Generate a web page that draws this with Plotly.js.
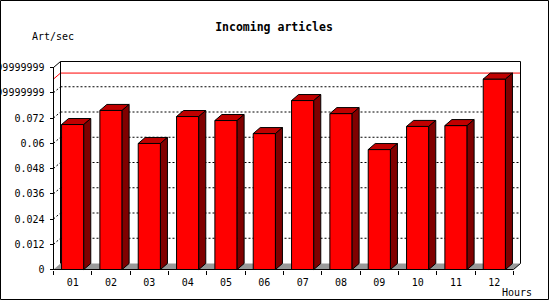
<!DOCTYPE html>
<html><head><meta charset="utf-8">
<script src="https://cdn.plot.ly/plotly-3.0.1.min.js"></script>
<style>html,body{margin:0;padding:0;background:#fff}#chart{width:550px;height:300px}</style>
</head><body><div id="chart"></div>
<script>
// ---- data ----
const hours = ['01','02','03','04','05','06','07','08','09','10','11','12'];
const artPerSec = [0.0689,0.0756,0.0599,0.0727,0.0708,0.0646,0.0803,0.0741,0.0570,0.0680,0.0684,0.0905];
const yTickVals = [0,0.012,0.024,0.036,0.048,0.06,0.072,0.084,0.096];
const yTickText = ['0','0.012','0.024','0.036','0.048','0.06','0.072','0.08399999999999999','0.09599999999999999'];
const chartTitle = 'Incoming articles';
const yUnit = 'Art/sec';
const xUnit = 'Hours';

// ---- geometry (pixels) ----
const W = 550, H = 300;
const M = {l:50, r:26, t:58, b:27};
const PW = W - M.l - M.r, PH = H - M.t - M.b;
const FL = 53.5, FR = 513.5, FB = 269.5, FT = 67.5; // front axis frame
const DDX = 7, DDY = 6; // 3D depth
const N = hours.length;
const YMAX = yTickVals[yTickVals.length - 1];
const catPx = (FR - FL) / N;
const yScale = (FB - FT) / YMAX;
const DX = DDX / catPx, DY = DDY / yScale;
const xr0 = -0.5 - (FL - M.l) / catPx, xr1 = xr0 + PW / catPx;
const yr0 = -((H - M.b) - FB) / yScale, yr1 = yr0 + PH / yScale;
const BW = 0.58;
const xs = hours.map((_, i) => i);
const XL = -0.5, XR = N - 0.5;

// 3D faces built from the data
const topX = [], topY = [], sideX = [], sideY = [];
xs.forEach((x, i) => {
  const v = artPerSec[i], a = x - BW/2, b = x + BW/2;
  topX.push(a, b, b+DX, a+DX, a, null);
  topY.push(v, v, v+DY, v+DY, v, null);
  sideX.push(b, b+DX, b+DX, b, b, null);
  sideY.push(0, DY, v+DY, v, 0, null);
});

const traces = [
  {type:'bar', x:xs, y:artPerSec, width:BW, marker:{color:'#ff0000', line:{color:'#000', width:1}}, hoverinfo:'skip'},
  {type:'scatter', mode:'lines', x:topX, y:topY, fill:'toself', fillcolor:'#c00000', line:{color:'#000', width:1}, hoverinfo:'skip', connectgaps:false},
  {type:'scatter', mode:'lines', x:sideX, y:sideY, fill:'toself', fillcolor:'#800000', line:{color:'#000', width:1}, hoverinfo:'skip', connectgaps:false}
];

const shapes = [];
// floor
shapes.push({type:'path', xref:'x', yref:'y', layer:'below',
  path:`M ${XL},0 L ${XR},0 L ${XR+DX},${DY} L ${XL+DX},${DY} Z`, fillcolor:'#999999', line:{width:0}});
// back wall gridlines + left wall connectors
yTickVals.slice(1, -1).forEach(v => {
  shapes.push({type:'line', xref:'x', yref:'y', layer:'below', x0:XL+DX, x1:XR+DX, y0:v+DY, y1:v+DY, line:{color:'#000', width:1, dash:'2px,2px'}});
  shapes.push({type:'line', xref:'x', yref:'y', layer:'below', x0:XL, x1:XL+DX, y0:v, y1:v+DY, line:{color:'#000', width:1, dash:'2px,2px'}});
});
// max line (red)
const vmax = Math.max(...artPerSec);
shapes.push({type:'path', xref:'x', yref:'y', layer:'below',
  path:`M ${XL},${vmax} L ${XL+DX},${vmax+DY} L ${XR+DX},${vmax+DY}`, line:{color:'#ff0000', width:1}});
// back wall frame
shapes.push({type:'path', xref:'x', yref:'y', layer:'below',
  path:`M ${XL+DX},${DY} L ${XL+DX},${YMAX+DY} L ${XR+DX},${YMAX+DY} L ${XR+DX},${DY}`, line:{color:'#000', width:1}});
shapes.push({type:'line', xref:'x', yref:'y', layer:'below', x0:XL, x1:XL+DX, y0:YMAX, y1:YMAX+DY, line:{color:'#000', width:1}});
// front axes
shapes.push({type:'path', xref:'x', yref:'y', layer:'above',
  path:`M ${XL},${YMAX} L ${XL},0 L ${XR},0 L ${XR+DX},${DY}`, line:{color:'#000', width:1}});
// image border
shapes.push({type:'rect', xref:'paper', yref:'paper',
  x0:(0.5 - M.l)/PW, x1:(548.5 - M.l)/PW, y0:-(299.5 - (H - M.b))/PH, y1:1 + (M.t - 0.5)/PH,
  line:{color:'#000', width:1}, fillcolor:'rgba(0,0,0,0)'});

const font = {family:'DejaVu Sans Mono', size:10, color:'#000'};
const bounds = xs.map(x => x - 0.5).concat([XR]);

const layout = {
  width:W, height:H, margin:M, paper_bgcolor:'#fff', plot_bgcolor:'rgba(0,0,0,0)',
  showlegend:false, font:font,
  title:{text:chartTitle, font:{family:'DejaVu Sans Mono', size:11.5, weight:700, color:'#000'},
         x:274/W, xref:'container', xanchor:'center', y:1 - 27/H, yanchor:'middle'},
  xaxis:{range:[xr0, xr1], tickmode:'array', tickvals:xs, ticktext:hours, ticks:'', showgrid:false,
         zeroline:false, showline:false, tickfont:font, ticklabelstandoff:5, automargin:false,
         anchor:'free', position:((H - M.b) - FB)/PH,
         minor:{tickmode:'array', tickvals:bounds, ticks:'outside', ticklen:4, tickcolor:'#000', tickwidth:1, showgrid:false},
         fixedrange:true},
  yaxis:{range:[yr0, yr1], tickmode:'array', tickvals:yTickVals, ticktext:yTickText, ticks:'outside',
         ticklen:4, tickcolor:'#000', tickwidth:1, showgrid:false, zeroline:false, showline:false,
         tickfont:font, ticklabelstandoff:3, automargin:false,
         anchor:'free', position:(FL - M.l)/PW, fixedrange:true},
  shapes:shapes,
  annotations:[
    {text:yUnit, xref:'paper', yref:'paper', x:(30 - M.l)/PW, xanchor:'left', y:1 + (M.t - 37)/PH, yanchor:'middle', showarrow:false, font:font},
    {text:xUnit, xref:'paper', yref:'paper', x:(534 - M.l)/PW, xanchor:'right', y:-(292 - (H - M.b))/PH, yanchor:'middle', showarrow:false, font:font}
  ]
};

Plotly.newPlot('chart', traces, layout, {staticPlot:true, displayModeBar:false});
</script>
</body></html>
